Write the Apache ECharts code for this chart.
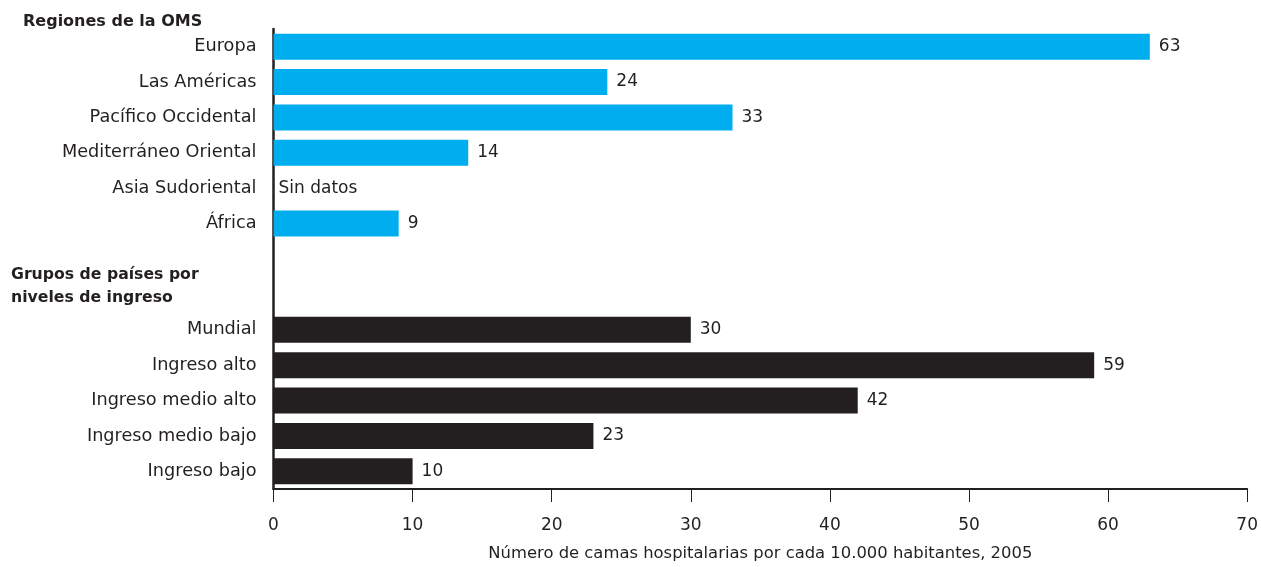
<!DOCTYPE html>
<html>
<head>
<meta charset="utf-8">
<script src="https://cdn.jsdelivr.net/npm/echarts@6/dist/echarts.min.js"></script>
<style>
html,body{margin:0;padding:0;background:#fff;width:100%;height:100%;overflow:hidden;}
#chart{width:100vw;height:100vh;}
</style>
</head>
<body>
<div id="chart"></div>
<script>
// Categories (top to bottom); two empty slots separate the groups
var categories = ['Europa', 'Las Américas', 'Pacífico Occidental', 'Mediterráneo Oriental',
  'Asia Sudoriental', 'África', '', ' ',
  'Mundial', 'Ingreso alto', 'Ingreso medio alto', 'Ingreso medio bajo', 'Ingreso bajo'];
// WHO regions (null = Sin datos)
var regionNames = ['Europa', 'Las Américas', 'Pacífico Occidental', 'Mediterráneo Oriental', 'Asia Sudoriental', 'África'];
var regionValues = [63, 24, 33, 14, null, 9];
// Income groups
var incomeNames = ['Mundial', 'Ingreso alto', 'Ingreso medio alto', 'Ingreso medio bajo', 'Ingreso bajo'];
var incomeValues = [30, 59, 42, 23, 10];
var xTicks = [0, 10, 20, 30, 40, 50, 60, 70];
var xTitle = 'Número de camas hospitalarias por cada 10.000 habitantes, 2005';
var noDataText = 'Sin datos';
var header1 = 'Regiones de la OMS';
var header2 = 'Grupos de países por\nniveles de ingreso';

var FONT = 'DejaVu Sans';
var INK = '#231F20';

function buildData(names, values) {
  return categories.map(function (c) {
    var i = names.indexOf(c);
    if (i < 0) return '-';
    var v = values[i];
    if (v === null) {
      return { value: 0, label: { show: true, formatter: noDataText, distance: 5 } };
    }
    return v;
  });
}

var chart = echarts.init(document.getElementById('chart'), null, { renderer: 'canvas' });
var labelStyle = { show: true, position: 'right', distance: 9, color: INK, fontFamily: FONT, fontSize: 17 };

chart.setOption({
  animation: false,
  backgroundColor: '#ffffff',
  grid: { left: 273.5, right: 12.5, top: 29, bottom: 74.5, containLabel: false },
  xAxis: {
    type: 'value',
    min: xTicks[0],
    max: xTicks[xTicks.length - 1],
    interval: 10,
    name: xTitle,
    nameLocation: 'middle',
    nameGap: 57,
    nameTextStyle: { color: INK, fontFamily: FONT, fontSize: 16.4 },
    axisLine: { show: true, lineStyle: { color: INK, width: 2 } },
    axisTick: { show: true, length: 13, lineStyle: { color: INK, width: 1 } },
    axisLabel: { margin: 28, color: INK, fontFamily: FONT, fontSize: 17 },
    splitLine: { show: false }
  },
  yAxis: {
    type: 'category',
    data: categories,
    inverse: true,
    axisLine: { show: true, lineStyle: { color: INK, width: 2.5 } },
    axisTick: { show: false },
    axisLabel: { margin: 17, color: INK, fontFamily: FONT, fontSize: 17.7 },
    splitLine: { show: false }
  },
  series: [
    {
      type: 'bar',
      name: 'Regiones',
      stack: 'all',
      barWidth: 26,
      data: buildData(regionNames, regionValues),
      itemStyle: { color: '#00AEEF' },
      label: labelStyle
    },
    {
      type: 'bar',
      name: 'Ingreso',
      stack: 'all',
      barWidth: 26,
      data: buildData(incomeNames, incomeValues),
      itemStyle: { color: INK },
      label: labelStyle
    }
  ],
  graphic: [
    {
      type: 'text', left: 23, top: 14,
      style: { text: header1, fill: INK, font: 'bold 16px "DejaVu Sans"' }
    },
    {
      type: 'text', left: 11, top: 264,
      style: { text: header2, fill: INK, font: 'bold 15.7px "DejaVu Sans"', lineHeight: 22.5 }
    }
  ]
});
window.addEventListener('resize', function () { chart.resize(); });
</script>
</body>
</html>
